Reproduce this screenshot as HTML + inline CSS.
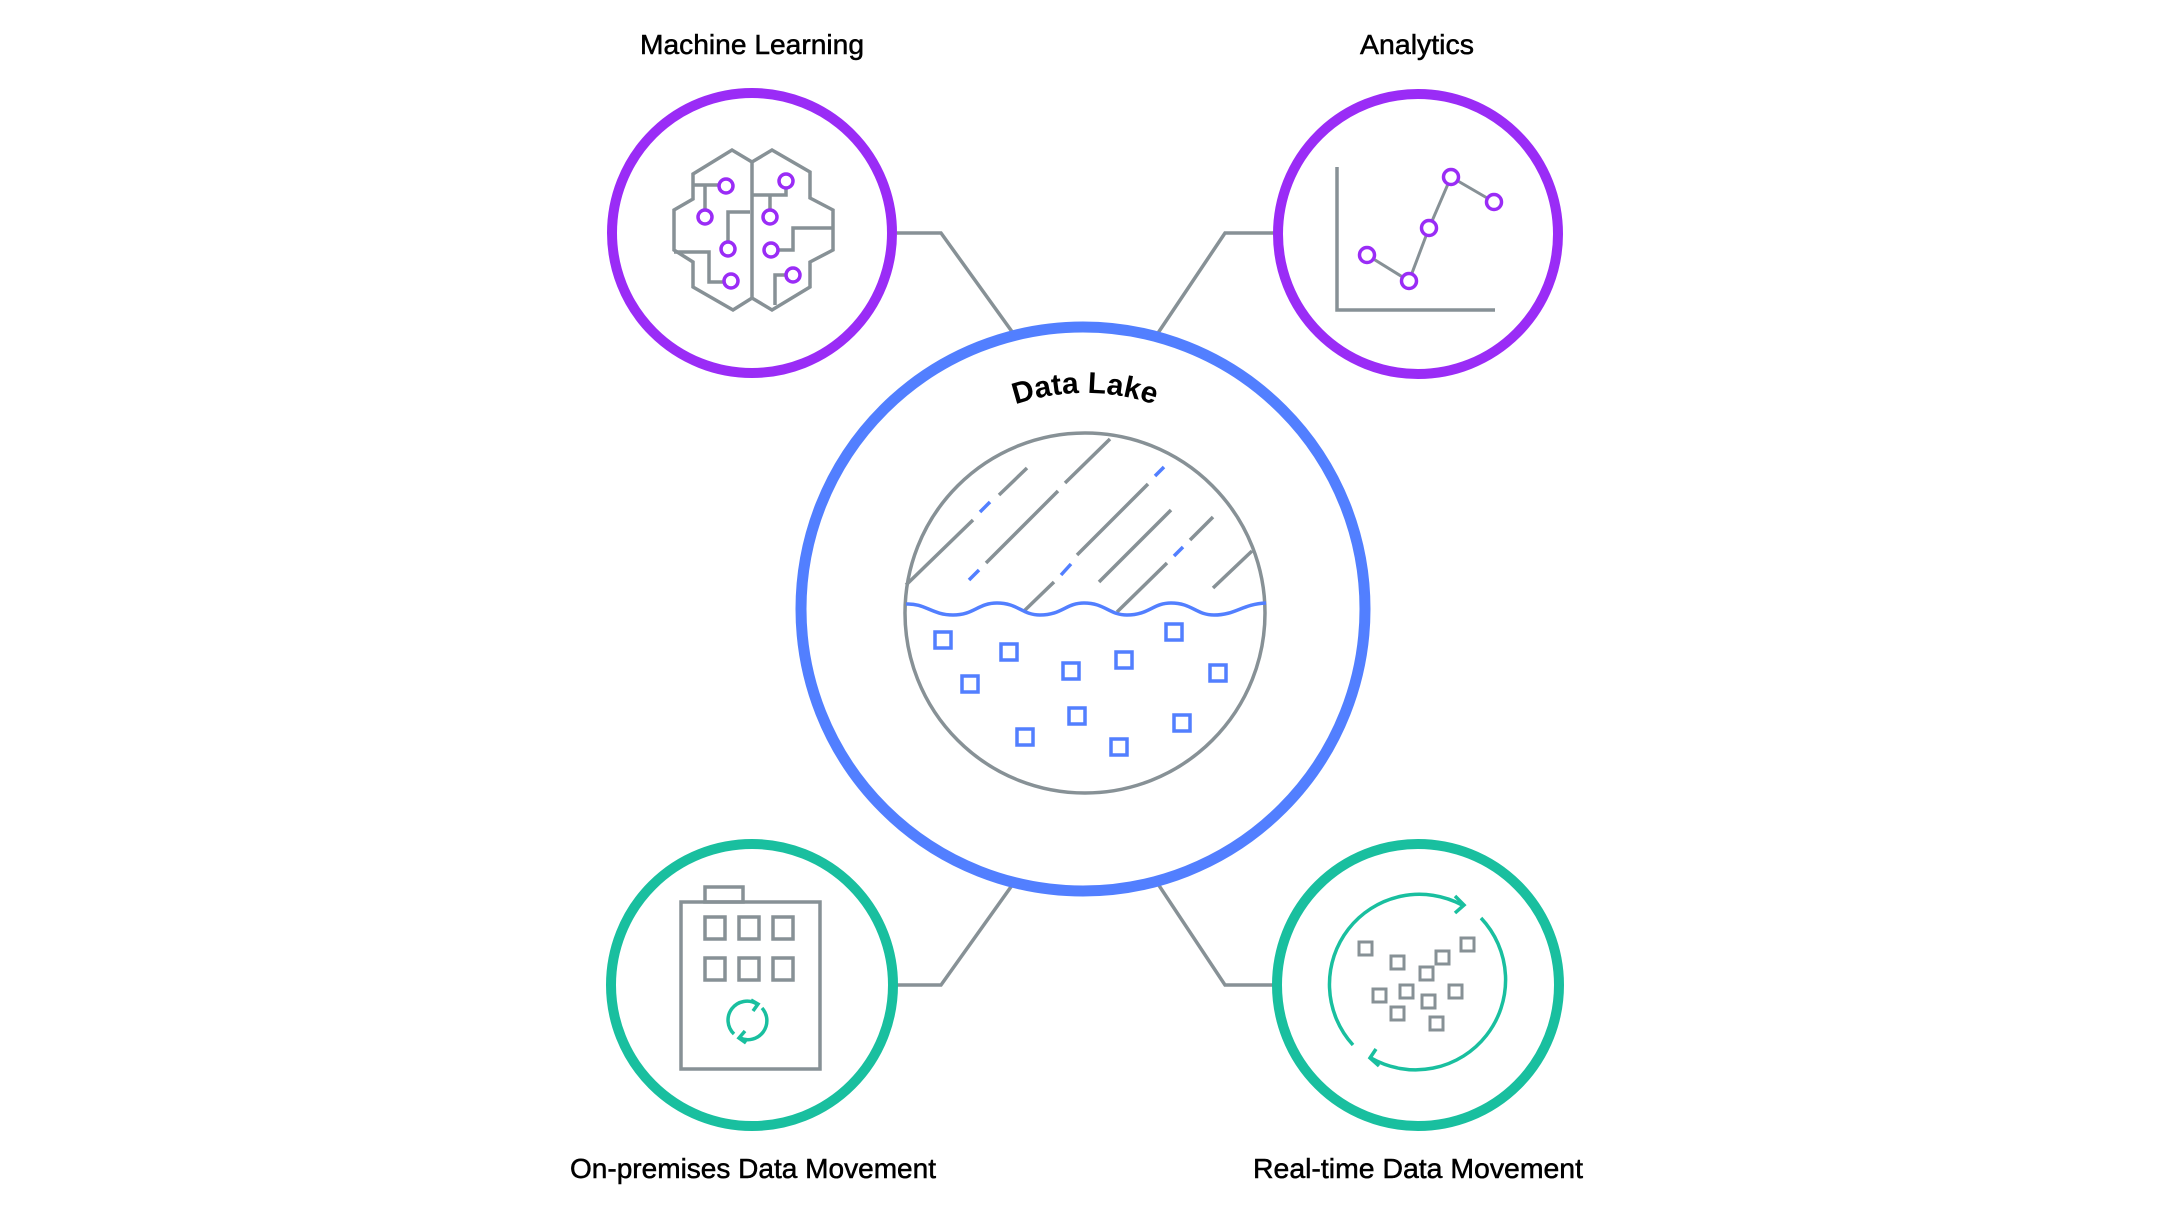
<!DOCTYPE html>
<html><head><meta charset="utf-8"><style>html,body{margin:0;padding:0;background:#fff}svg{display:block}</style></head>
<body>
<svg width="2161" height="1216" viewBox="0 0 2161 1216" xmlns="http://www.w3.org/2000/svg">
<defs>
<path id="arc" d="M 869 609 A 216 216 0 0 1 1301 609"/>
</defs>
<g fill="none" stroke="#879196" stroke-width="3.5">
<polyline points="897,233 941,233 1013,333"/>
<polyline points="1274,233 1225,233 1158,333"/>
<polyline points="897,985 941,985 1013,884"/>
<polyline points="1274,985 1225,985 1158,884"/>
</g>
<circle cx="752" cy="233" r="140" fill="#fff" stroke="#9a2cf6" stroke-width="10"/>
<circle cx="1418" cy="234" r="140" fill="#fff" stroke="#9a2cf6" stroke-width="10"/>
<circle cx="752" cy="985" r="141" fill="#fff" stroke="#19bf9f" stroke-width="10"/>
<circle cx="1418" cy="985" r="141" fill="#fff" stroke="#19bf9f" stroke-width="10"/>
<circle cx="1083" cy="609" r="282" fill="#fff" stroke="#527fff" stroke-width="11"/>
<circle cx="1085" cy="613" r="180" fill="#fff" stroke="#879196" stroke-width="3.5"/>

<g stroke-width="3.5" fill="none">
<g stroke="#879196">
<line x1="906" y1="585" x2="973" y2="520"/><line x1="999" y1="495" x2="1027" y2="468"/>
<line x1="986" y1="563" x2="1058" y2="491"/><line x1="1065" y1="483" x2="1110" y2="439"/>
<line x1="1023" y1="612" x2="1054" y2="582"/><line x1="1077" y1="555" x2="1148" y2="484"/>
<line x1="1099" y1="582" x2="1171" y2="510"/>
<line x1="1117" y1="612" x2="1167" y2="563"/><line x1="1190" y1="540" x2="1213" y2="517"/>
<line x1="1213" y1="588" x2="1252" y2="551"/>
</g>
<g stroke="#527fff">
<line x1="980" y1="512" x2="990" y2="502"/>
<line x1="969" y1="580" x2="979" y2="570"/>
<line x1="1061" y1="575" x2="1071" y2="564"/>
<line x1="1155" y1="476" x2="1164" y2="467"/>
<line x1="1174" y1="556" x2="1183" y2="547"/>
<path d="M906 604 C 925 603 932 615 953 615 C 974 615 978 603 997 603 C 1018 603 1022 615 1040 615 C 1062 615 1066 603 1084 603 C 1105 603 1109 615 1127 615 C 1149 615 1153 603 1171 603 C 1192 603 1196 615 1214 615 C 1236 615 1242 604 1266 603"/>
</g>
<g stroke="#527fff">
<rect x="935" y="632" width="16" height="16"/><rect x="1001" y="644" width="16" height="16"/>
<rect x="962" y="676" width="16" height="16"/><rect x="1063" y="663" width="16" height="16"/>
<rect x="1116" y="652" width="16" height="16"/><rect x="1166" y="624" width="16" height="16"/>
<rect x="1210" y="665" width="16" height="16"/><rect x="1069" y="708" width="16" height="16"/>
<rect x="1017" y="729" width="16" height="16"/><rect x="1111" y="739" width="16" height="16"/>
<rect x="1174" y="715" width="16" height="16"/>
</g>
</g>

<text font-family="Liberation Sans, sans-serif" font-weight="bold" font-size="30" fill="#000"><textPath href="#arc" startOffset="50%" text-anchor="middle">Data Lake</textPath></text>

<g fill="none" stroke="#879196" stroke-width="3.5">
<polygon points="752,162 732,150 693,174 693,199 674,210 674,250 693,262 693,287 733,310 752,298 772,310 810,287 810,262 833,250 833,210 810,198 810,172 772,150"/>
<line x1="752" y1="162" x2="752" y2="298"/>
<polyline points="693,185 719,185"/><line x1="705" y1="185" x2="705" y2="210"/>
<polyline points="750,212 728,212 728,242"/>
<polyline points="674,252 709,252 709,282 724,282"/>
<polyline points="786,188 786,195 752,195"/><line x1="770" y1="195" x2="770" y2="210"/>
<polyline points="833,228 793,228 793,250 778,250"/>
<polyline points="775,305 775,275 786,275"/>
</g>
<g fill="#fff" stroke="#9a2cf6" stroke-width="3.5">
<circle cx="726" cy="186" r="7"/><circle cx="705" cy="217" r="7"/><circle cx="728" cy="249" r="7"/><circle cx="731" cy="281" r="7"/>
<circle cx="786" cy="181" r="7"/><circle cx="770" cy="217" r="7"/><circle cx="771" cy="250" r="7"/><circle cx="793" cy="275" r="7"/>
</g>

<g transform="translate(-2,0)">
<polyline points="1339,167 1339,310 1497,310" fill="none" stroke="#879196" stroke-width="3.5"/>
<polyline points="1369,255 1411,281 1431,228 1453,177 1496,202" fill="none" stroke="#879196" stroke-width="3"/>
<g fill="#fff" stroke="#9a2cf6" stroke-width="3.5">
<circle cx="1369" cy="255" r="7.5"/><circle cx="1411" cy="281" r="7.5"/><circle cx="1431" cy="228" r="7.5"/><circle cx="1453" cy="177" r="7.5"/><circle cx="1496" cy="202" r="7.5"/>
</g>
</g>

<g fill="none" stroke="#879196" stroke-width="3.5">
<rect x="681" y="902" width="139" height="167"/>
<rect x="705" y="887" width="38" height="15"/>
<rect x="705" y="917" width="20" height="22"/><rect x="739" y="917" width="20" height="22"/><rect x="773" y="917" width="20" height="22"/>
<rect x="705" y="958" width="20" height="22"/><rect x="739" y="958" width="20" height="22"/><rect x="773" y="958" width="20" height="22"/>
</g>
<g fill="none" stroke="#19bf9f" stroke-width="3.5">
<path d="M734 1034 A19 19 0 0 1 757 1004"/><polyline points="751,1000 758,1004 753,1011"/>
<path d="M762 1008 A19 19 0 0 1 740 1038"/><polyline points="746,1043 739,1038 745,1031"/>
</g>

<g transform="translate(-1,0)">
<g fill="none" stroke="#19bf9f" stroke-width="3.5">
<path d="M1354 1045 A90 90 0 0 1 1463 905"/><polyline points="1456,896 1465,905 1456,913"/>
<path d="M1482 918 A90 90 0 0 1 1372 1058"/><polyline points="1380,1066 1371,1058 1377,1049"/>
</g>
<g fill="none" stroke="#879196" stroke-width="3">
<rect x="1360" y="942" width="13" height="13"/><rect x="1392" y="956" width="13" height="13"/>
<rect x="1437" y="951" width="13" height="13"/><rect x="1462" y="938" width="13" height="13"/>
<rect x="1421" y="967" width="13" height="13"/><rect x="1374" y="989" width="13" height="13"/>
<rect x="1401" y="985" width="13" height="13"/><rect x="1423" y="995" width="13" height="13"/>
<rect x="1450" y="985" width="13" height="13"/><rect x="1392" y="1007" width="13" height="13"/>
<rect x="1431" y="1017" width="13" height="13"/>
</g>
</g>

<g font-family="Liberation Sans, sans-serif" font-size="28" fill="#000" stroke="#000" stroke-width="0.5" text-anchor="middle">
<text x="752" y="54" textLength="224" lengthAdjust="spacingAndGlyphs">Machine Learning</text>
<text x="1417" y="54" textLength="114" lengthAdjust="spacingAndGlyphs">Analytics</text>
<text x="753" y="1178" textLength="366" lengthAdjust="spacingAndGlyphs">On-premises Data Movement</text>
<text x="1418" y="1178" textLength="330" lengthAdjust="spacingAndGlyphs">Real-time Data Movement</text>
</g>
</svg>
</body></html>
